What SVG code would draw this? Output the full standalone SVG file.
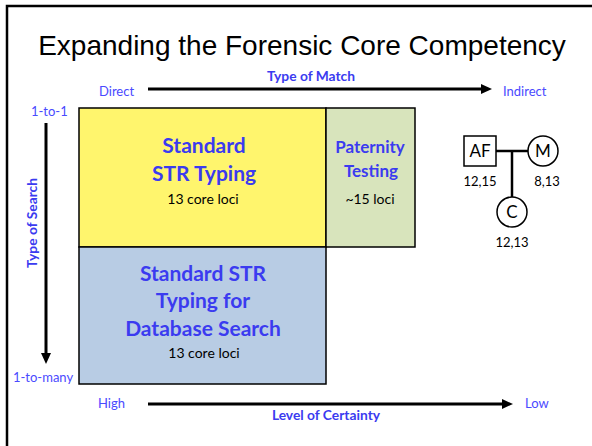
<svg xmlns="http://www.w3.org/2000/svg" width="592" height="446" viewBox="0 0 592 446">
  <style>
    .title { font-family: "Liberation Sans", Arial, sans-serif; font-size: 28px; fill: #000; }
    .axis { font-family: Lato, "Open Sans", sans-serif; font-size: 13px; fill: #4a4aff; }
    .axisb { font-family: Lato, "Open Sans", sans-serif; font-size: 13.8px; font-weight: bold; fill: #3b3bf0; }
    .head { font-family: Lato, "Open Sans", sans-serif; font-size: 21px; font-weight: bold; fill: #3b3bf0; text-anchor: middle; }
    .head2 { font-family: Lato, "Open Sans", sans-serif; font-size: 17px; font-weight: bold; fill: #3b3bf0; text-anchor: middle; }
    .sub { font-family: Lato, "Open Sans", sans-serif; font-size: 14px; fill: #000; text-anchor: middle; }
    .ped { font-family: Lato, "Open Sans", sans-serif; fill: #000; text-anchor: middle; }
    .box { stroke: #000; stroke-width: 1.5; }
    .shape { fill: #fff; stroke: #000; stroke-width: 1.5; }
    .arrow { stroke: #000; stroke-width: 3; fill: none; }
    .link { stroke: #000; stroke-width: 2.5; fill: none; }
  </style>
  <defs>
    <marker id="tip" markerUnits="userSpaceOnUse" markerWidth="12" markerHeight="12" refX="0" refY="5" orient="auto">
      <path d="M0,0 L11,5 L0,10 Z" fill="#000"/>
    </marker>
  </defs>

  <!-- slide frame -->
  <path d="M7,446 V6 H592" fill="none" stroke="#000" stroke-width="2.5"/>

  <text class="title" x="302" y="55" text-anchor="middle">Expanding the Forensic Core Competency</text>

  <!-- axis connectors -->
  <g id="connectors">
    <line class="arrow" x1="148" y1="89" x2="481" y2="89" marker-end="url(#tip)"/>
    <line class="arrow" x1="46" y1="123" x2="46" y2="353" marker-end="url(#tip)"/>
    <line class="arrow" x1="148" y1="404" x2="502" y2="404" marker-end="url(#tip)"/>
    <!-- pedigree lines -->
    <line class="link" x1="496" y1="151" x2="528" y2="151"/>
    <line class="link" x1="512" y1="151" x2="512" y2="197"/>
  </g>

  <!-- axis labels -->
  <g id="axis-labels">
    <text class="axisb" x="311" y="81" text-anchor="middle">Type of Match</text>
    <text class="axis" x="99" y="96">Direct</text>
    <text class="axis" x="503" y="96">Indirect</text>
    <text class="axis" x="31" y="116">1-to-1</text>
    <text class="axis" x="13" y="382">1-to-many</text>
    <text class="axisb" transform="translate(37,223) rotate(-90)" text-anchor="middle">Type of Search</text>
    <text class="axis" x="98" y="408">High</text>
    <text class="axis" x="525" y="408">Low</text>
    <text class="axisb" x="326" y="420" text-anchor="middle">Level of Certainty</text>
  </g>

  <g id="standard-str">
    <rect class="box" x="79" y="108" width="247" height="139" fill="#fff56d"/>
    <text class="head" x="204" y="153">Standard</text>
    <text class="head" x="204" y="181">STR Typing</text>
    <text class="sub" x="203" y="204">13 core loci</text>
  </g>

  <g id="paternity">
    <rect class="box" x="326" y="108" width="89" height="139" fill="#d8e4bc"/>
    <text class="head2" x="370" y="153">Paternity</text>
    <text class="head2" x="371" y="177">Testing</text>
    <text class="sub" x="370" y="204">~15 loci</text>
  </g>

  <g id="database-search">
    <rect class="box" x="79" y="247" width="247" height="137" fill="#b8cce4"/>
    <text class="head" x="203" y="281">Standard STR</text>
    <text class="head" x="203" y="308">Typing for</text>
    <text class="head" x="203" y="336">Database Search</text>
    <text class="sub" x="204" y="358">13 core loci</text>
  </g>

  <g id="af">
    <rect class="shape" x="464" y="136" width="32" height="30"/>
    <text class="ped" x="480" y="157" font-size="17">AF</text>
    <text class="ped" x="480" y="186" font-size="13">12,15</text>
  </g>

  <g id="m">
    <circle class="shape" cx="543" cy="151" r="15"/>
    <text class="ped" x="543" y="157" font-size="17">M</text>
    <text class="ped" x="547" y="186" font-size="13">8,13</text>
  </g>

  <g id="c">
    <circle class="shape" cx="512" cy="212" r="15"/>
    <text class="ped" x="512" y="218" font-size="17">C</text>
    <text class="ped" x="512" y="247" font-size="13">12,13</text>
  </g>
</svg>
